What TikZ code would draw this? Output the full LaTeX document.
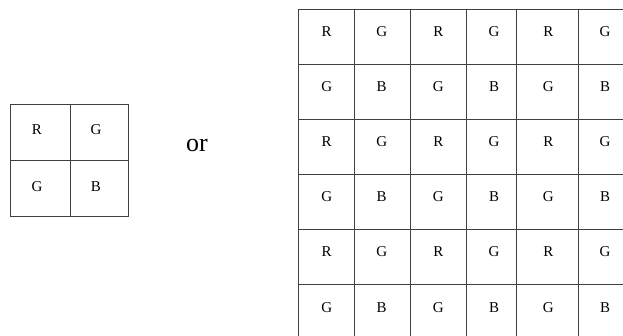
\documentclass[tikz,border=0pt]{standalone}
\usepackage{fontspec}
\setmainfont{Liberation Serif}
\begin{document}
\begin{tikzpicture}[x=1pt,y=-1pt,
  gridline/.style={draw=black!75,line width=1pt},
  lab/.style={font=\fontsize{15}{15}\selectfont,inner sep=0pt},
  ortext/.style={font=\fontsize{26}{26}\selectfont,inner sep=0pt}]
\useasboundingbox (0,0) rectangle (623,336);
\clip (0,0) rectangle (623,336);
% small grid
\draw[gridline] (10.7,105) rectangle (128,216.7);
\draw[gridline] (70,105) -- (70,216.7);
\draw[gridline] (10.7,161) -- (128,161);
\node[lab] (s11) at (37,129.5) {R};
\node[lab] (s12) at (96,129.5) {G};
\node[lab] (s21) at (37,187) {G};
\node[lab] (s22) at (96,187) {B};
% or
\node[ortext] (or) at (197,146) {or};
% big grid
\foreach \x in {298.3,354.3,410.7,466.7,516.7,578.3}
  \draw[gridline] (\x,9.3) -- (\x,345);
\foreach \y in {9.3,64.3,119.3,174.3,229.3,285}
  \draw[gridline] (298.3,\y) -- (640,\y);
\foreach \r/\y in {1/32,3/142,5/252}{
  \foreach \c/\x/\t in {1/326.7/R,2/381.7/G,3/438.3/R,4/494/G,5/548.3/R,6/605/G}
    \node[lab] (b\r\c) at (\x,\y) {\t};
}
\foreach \r/\y in {2/87,4/197,6/308}{
  \foreach \c/\x/\t in {1/326.7/G,2/381.7/B,3/438.3/G,4/494/B,5/548.3/G,6/605/B}
    \node[lab] (b\r\c) at (\x,\y) {\t};
}
\end{tikzpicture}
\end{document}
